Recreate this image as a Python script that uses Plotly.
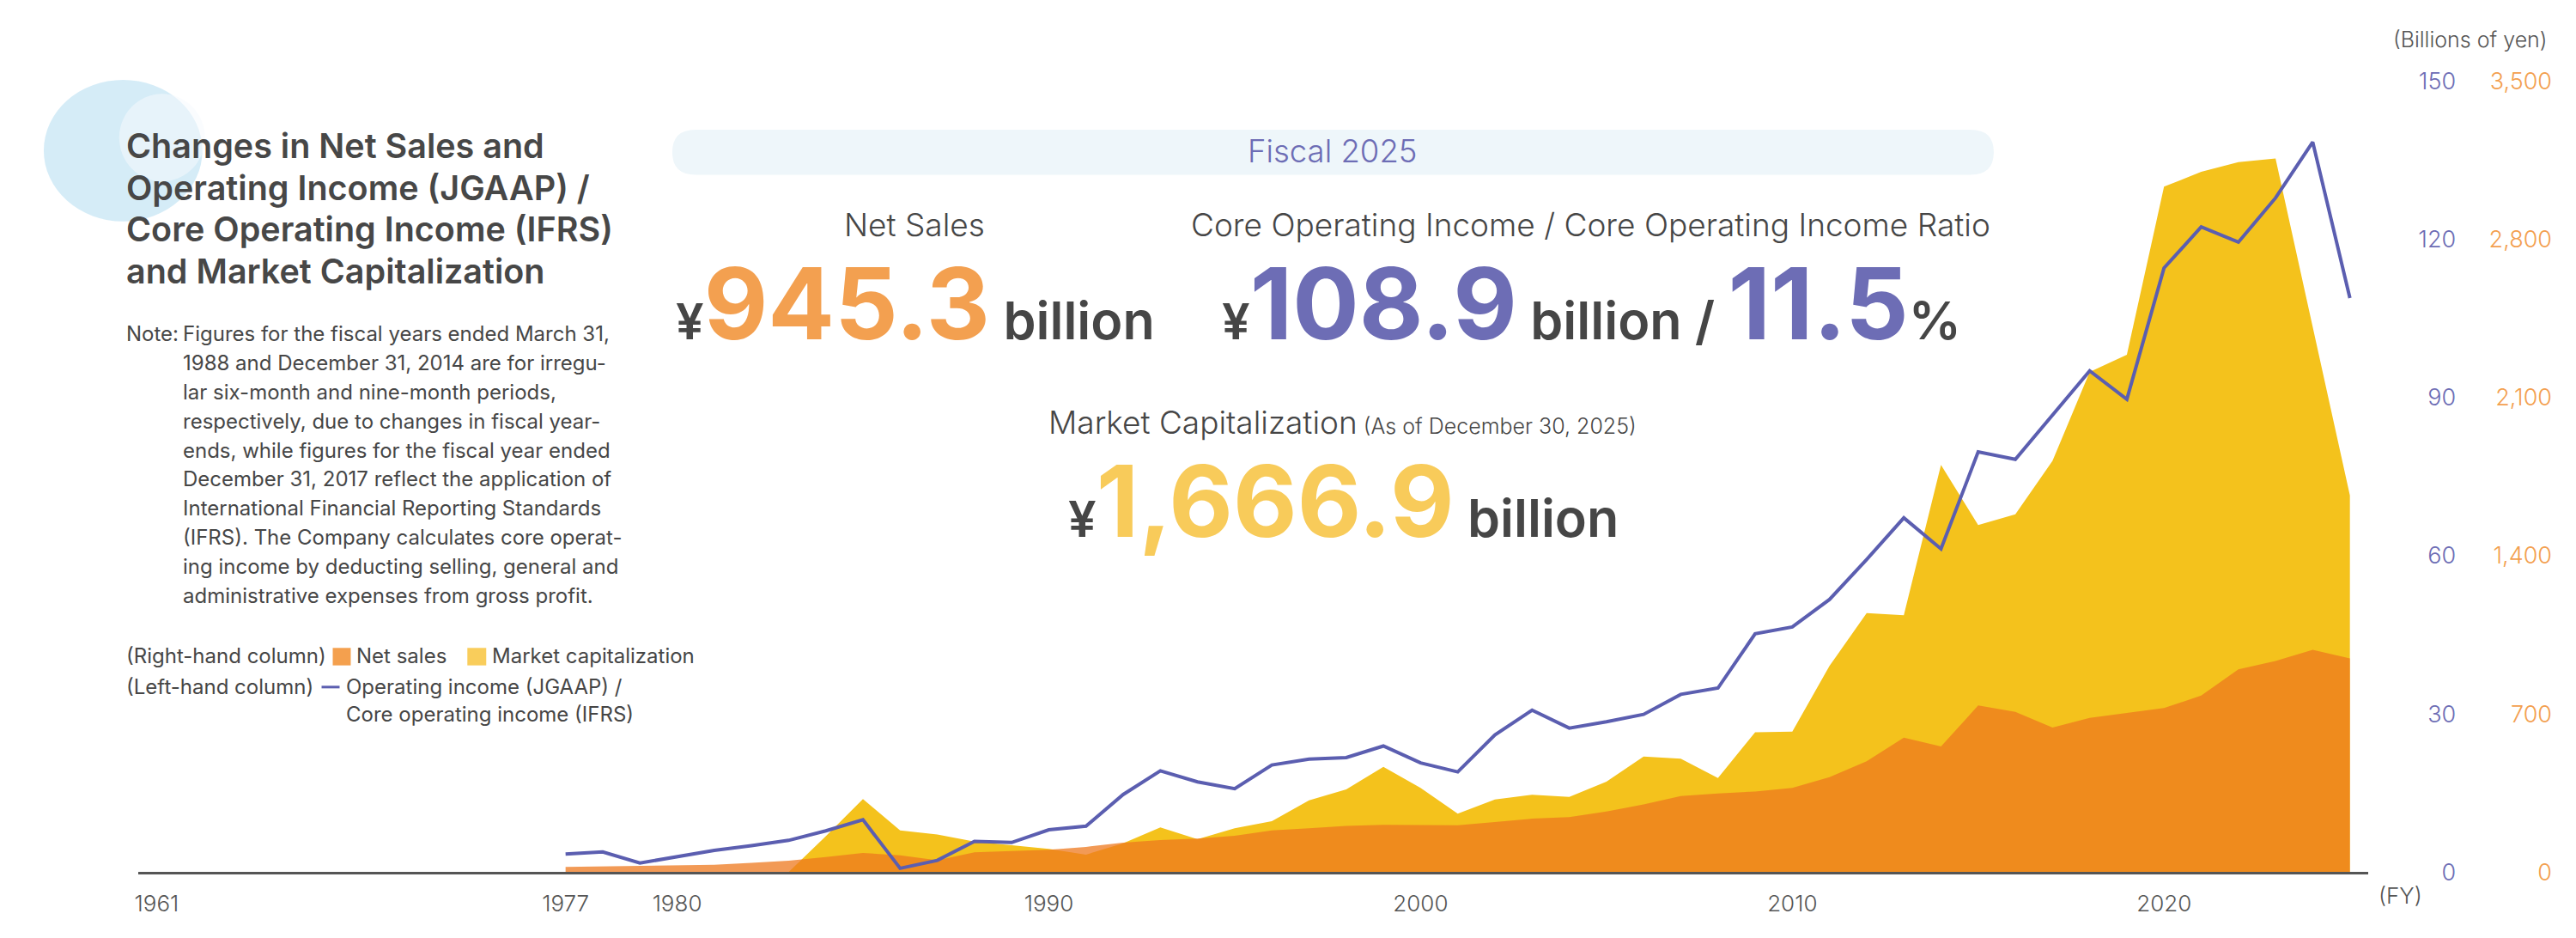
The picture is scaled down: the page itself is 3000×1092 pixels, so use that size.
import plotly.graph_objects as go

# Fiscal years
years = list(range(1977, 2026))
mcap_years = list(range(1983, 2026))

# Operating income (JGAAP) / core operating income (IFRS), billions of yen (left column)
operating_income = [3.4, 3.8, 1.7, 2.9, 4.1, 5.0, 6.0, 7.8, 9.9, 0.7, 2.2, 5.8, 5.6, 8.0, 8.7,
                    14.7, 19.2, 17.1, 15.8, 20.3, 21.4, 21.7, 23.9, 20.7, 19.0, 26.0, 30.7, 27.3,
                    28.5, 29.9, 33.7, 34.9,
                    45.2, 46.5, 51.7, 59.3, 67.2, 61.3, 79.7, 78.3, 86.6, 95.1, 89.7, 114.6,
                    122.4, 119.5, 127.9, 138.5, 108.9]

# Net sales, billions of yen (right column)
net_sales = [22, 24, 26, 28, 32, 40, 50, 66, 84, 74, 52, 87, 93, 98, 111,
             130, 141, 148, 160, 184, 194, 204, 209, 209, 207, 221, 236, 243,
             268, 299, 336, 348,
             356, 372, 420, 490, 595, 556, 737, 709, 639, 682, 704, 726,
             781, 897, 934, 984, 945.3]

# Market capitalization, billions of yen (right column)
market_cap = [0, 158, 323, 184, 166, 135, 118, 102, 77,
              127, 197, 145, 194, 225, 317, 366, 465, 372, 258, 321, 342, 332,
              400, 511, 502, 416,
              619, 621, 912, 1146, 1137, 1802, 1536, 1584, 1820, 2214, 2290, 3034,
              3100, 3143, 3159, 2410, 1666.9]

# Axis ticks
x_tick_pos = [1966, 1977, 1980, 1990, 2000, 2010, 2020]
x_tick_text = ['1961', '1977', '1980', '1990', '2000', '2010', '2020']
left_ticks = [0, 30, 60, 90, 120, 150]
right_ticks = [0, 700, 1400, 2100, 2800, 3500]

W, H = 3000, 1092
OFF = 8  # the page body adds an 8px margin around the figure
PURPLE = '#5b5eb0'
PURPLE_TXT = '#6d6db5'
ORANGE_TXT = '#f3a050'
YELLOW_TXT = '#f8cb5a'
GRAY = '#464646'
FONT = 'Inter'


def px(x):
    return (x - OFF) / W


def py(y):
    return 1 - (y - OFF) / H


fig = go.Figure()

fig.add_trace(go.Scatter(x=mcap_years, y=market_cap, mode='lines', fill='tozeroy',
                         line=dict(width=0, color='#f4c21c'), fillcolor='#f4c21c',
                         name='Market capitalization', yaxis='y'))
fig.add_trace(go.Scatter(x=years, y=net_sales, mode='lines', fill='tozeroy',
                         line=dict(width=0, color='rgba(238,120,30,0.75)'),
                         fillcolor='rgba(238,120,30,0.75)',
                         name='Net sales', yaxis='y'))
fig.add_trace(go.Scatter(x=years, y=operating_income, mode='lines',
                         line=dict(width=4, color=PURPLE),
                         name='Operating income', yaxis='y2'))

ydom = [py(1029), py(80)]

fig.update_layout(
    width=W, height=H,
    margin=dict(l=0, r=0, t=0, b=0),
    paper_bgcolor='white', plot_bgcolor='rgba(0,0,0,0)',
    showlegend=False,
    font=dict(family=FONT, color=GRAY),
    xaxis=dict(domain=[px(157), px(2758)], range=[1965.5, 2025.5], anchor='y',
               tickvals=x_tick_pos, ticktext=x_tick_text, ticks='',
               tickfont=dict(size=26, color='#555555', weight=300), ticklabelstandoff=12,
               showgrid=False, zeroline=False,
               showline=True, linecolor='#555555', linewidth=2.5),
    yaxis=dict(domain=ydom, range=[0, 3500], anchor='free', position=px(2972), side='left',
               tickvals=right_ticks, tickformat=',', ticks='',
               tickfont=dict(size=27, color=ORANGE_TXT, weight=300),
               showgrid=False, zeroline=False, showline=False),
    yaxis2=dict(domain=ydom, range=[0, 150], anchor='free', position=px(2860), side='left',
                overlaying='y', tickvals=left_ticks, ticks='',
                tickfont=dict(size=27, color=PURPLE_TXT, weight=300),
                showgrid=False, zeroline=False, showline=False),
)

shapes = []
# watercolor blob
shapes.append(dict(type='circle', xref='paper', yref='paper', layer='below',
                   x0=px(47), x1=px(232), y0=py(248), y1=py(78),
                   fillcolor='rgba(208,234,246,0.9)', line=dict(width=0)))
shapes.append(dict(type='circle', xref='paper', yref='paper', layer='below',
                   x0=px(135), x1=px(235), y0=py(200), y1=py(95),
                   fillcolor='rgba(245,250,253,0.55)', line=dict(width=0)))

# Fiscal 2025 pill
x0, x1, y0, y1, r = 780, 2321, 138, 192, 27
ym = (y0 + y1) / 2
path = (f"M {px(x0 + r)},{py(y0)} L {px(x1 - r)},{py(y0)} "
        f"Q {px(x1)},{py(y0)} {px(x1)},{py(ym)} Q {px(x1)},{py(y1)} {px(x1 - r)},{py(y1)} "
        f"L {px(x0 + r)},{py(y1)} Q {px(x0)},{py(y1)} {px(x0)},{py(ym)} "
        f"Q {px(x0)},{py(y0)} {px(x0 + r)},{py(y0)} Z")
shapes.append(dict(type='path', xref='paper', yref='paper', path=path, layer='below',
                   fillcolor='#eef6fa', line=dict(width=0)))

# legend swatches
shapes.append(dict(type='rect', xref='paper', yref='paper', x0=px(384), x1=px(405),
                   y0=py(781), y1=py(760), fillcolor='#f4a04e', line=dict(width=0)))
shapes.append(dict(type='rect', xref='paper', yref='paper', x0=px(541), x1=px(563),
                   y0=py(781), y1=py(760), fillcolor='#f9cd5b', line=dict(width=0)))
shapes.append(dict(type='line', xref='paper', yref='paper', x0=px(371), x1=px(392),
                   y0=py(807), y1=py(807), line=dict(color=PURPLE, width=3)))
fig.update_layout(shapes=shapes)

ann = []


def text(x, y, s, size, color=GRAY, anchor='left', weight=400):
    ann.append(dict(x=px(x), y=py(y), xref='paper', yref='paper', text=s, showarrow=False,
                    xanchor=anchor, yanchor='middle', align=anchor if anchor != 'center' else 'center',
                    font=dict(family=FONT, size=size, color=color, weight=weight)))


# Title
title_lines = ['Changes in Net Sales and', 'Operating Income (JGAAP) /',
               'Core Operating Income (IFRS)', 'and Market Capitalization']
for i, t in enumerate(title_lines):
    text(141, 158 + 50 * i, t, 39.5, '#474747', weight=600)

# Note
note_lines = ['Figures for the fiscal years ended March 31,',
              '1988 and December 31, 2014 are for irregu-',
              'lar six-month and nine-month periods,',
              'respectively, due to changes in fiscal year-',
              'ends, while figures for the fiscal year ended',
              'December 31, 2017 reflect the application of',
              'International Financial Reporting Standards',
              '(IFRS). The Company calculates core operat-',
              'ing income by deducting selling, general and',
              'administrative expenses from gross profit.']
text(141, 383, 'Note:', 24)
for i, t in enumerate(note_lines):
    text(207, 383 + 34.9 * i, t, 24)

# Legend text
text(141, 770, '(Right-hand column)', 24)
text(410, 770, 'Net sales', 24)
text(568, 770, 'Market capitalization', 24)
text(141, 807, '(Left-hand column)', 24)
text(398, 807, 'Operating income (JGAAP) /', 24)
text(398, 840, 'Core operating income (IFRS)', 24)

# KPI block
text(1550, 164, 'Fiscal 2025', 36.5, PURPLE_TXT, 'center', 300)
text(1062, 252, 'Net Sales', 37, GRAY, 'center', 300)
text(1851, 252, 'Core Operating Income / Core Operating Income Ratio', 37, GRAY, 'center', 300)


def yen(s, c):
    return (f"<span style='font-size:58px;font-weight:600;color:{GRAY}'>¥</span>"
            f"<span style='font-weight:700;color:{c}'>{s}</span>")


def small(s):
    return f"<span style='font-size:61px;font-weight:600;color:{GRAY}'>{s}</span>"


text(1063, 347, yen('945.3', ORANGE_TXT) + small(' billion'), 115, anchor='center')
text(1852, 347, yen('108.9', PURPLE_TXT) + small(' billion / ')
     + f"<span style='font-weight:700;color:{PURPLE_TXT}'>11.5</span>" + small('%'),
     115, anchor='center')
text(1562, 489, "Market Capitalization<span style='font-size:25px'> (As of December 30, 2025)</span>",
     37, GRAY, 'center', 300)
text(1563, 584, yen('1,666.9', YELLOW_TXT) + small(' billion'), 115, anchor='center')

# Axis labels
text(2969, 30, '(Billions of yen)', 25, '#555555', 'right', 300)
text(2795, 1057, '(FY)', 26, '#555555', 'center', 300)

fig.update_layout(annotations=ann)

fig.write_html('out.html')
